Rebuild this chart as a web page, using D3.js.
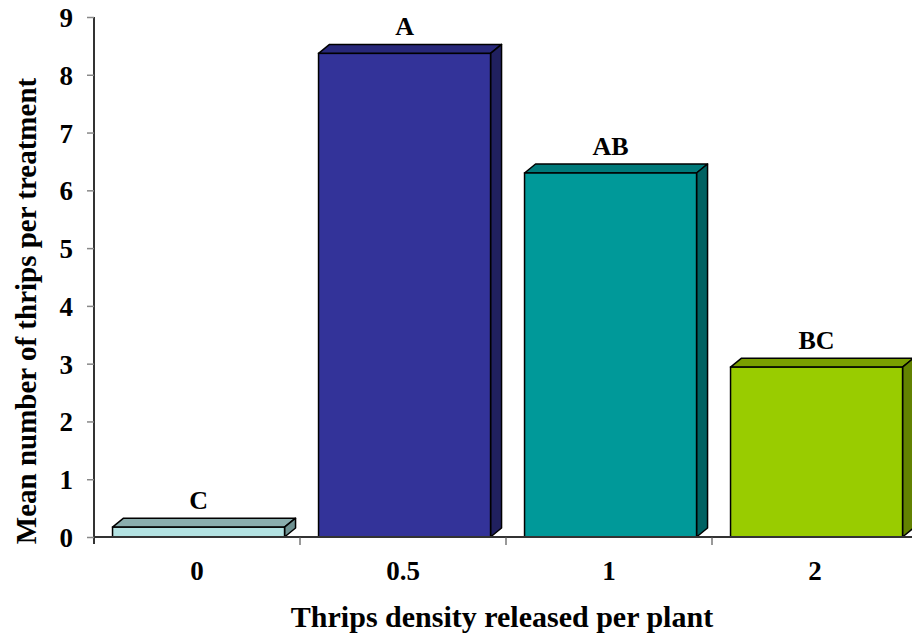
<!DOCTYPE html>
<html>
<head>
<meta charset="utf-8">
<script src="https://cdn.jsdelivr.net/npm/d3@7"></script>
<style>
  body { margin:0; background:#fff; }
  svg text { font-family: "Liberation Serif", "Times New Roman", serif; font-weight: bold; fill:#000; }
</style>
</head>
<body>
<div class="chart_bar"></div>
<script>
// values
var categories = ["0", "0.5", "1", "2"];
var means = [0.17, 8.37, 6.30, 2.94];
var letters = ["C", "A", "AB", "BC"];
var yTicks = [0,1,2,3,4,5,6,7,8,9];

var fronts = ["#b3e2e2", "#333399", "#009999", "#99cc00"];
var tops   = ["#8aadad", "#28287a", "#007a7a", "#7a9f00"];
var sides  = ["#6e9191", "#20205f", "#006262", "#628200"];

var width = 912, height = 634;
var x0 = 94, x1 = 918, yBase = 537, yTop = 17;
var dx = 11, dy = 9;

var svg = d3.select(".chart_bar").append("svg")
  .attr("width", width)
  .attr("height", height);

var xScale = d3.scaleBand()
  .domain(categories)
  .range([x0, x1])
  .paddingInner(0).paddingOuter(0);

var yScale = d3.scaleLinear()
  .domain([0, 9])
  .range([yBase, yTop]);

var bw = xScale.bandwidth();
var frontL = function(c){ return xScale(c) + bw*0.09; };
var frontW = bw*0.835;

// bars (3d look)
var bars = svg.selectAll(".bar")
  .data(means)
  .enter().append("g")
  .attr("class","bar");

bars.append("path") // top face
  .attr("d", function(d,i){
    var l = frontL(categories[i]), r = l + frontW, t = yScale(d);
    return "M"+l+","+t+"L"+(l+dx)+","+(t-dy)+"L"+(r+dx)+","+(t-dy)+"L"+r+","+t+"Z";
  })
  .attr("fill", function(d,i){ return tops[i]; })
  .attr("stroke","#000").attr("stroke-width",1.5).attr("stroke-linejoin","round");

bars.append("path") // side face
  .attr("d", function(d,i){
    var r = frontL(categories[i]) + frontW, t = yScale(d);
    return "M"+r+","+t+"L"+(r+dx)+","+(t-dy)+"L"+(r+dx)+","+(yBase-dy)+"L"+r+","+yBase+"Z";
  })
  .attr("fill", function(d,i){ return sides[i]; })
  .attr("stroke","#000").attr("stroke-width",1.5).attr("stroke-linejoin","round");

bars.append("rect") // front face
  .attr("x", function(d,i){ return frontL(categories[i]); })
  .attr("y", function(d){ return yScale(d); })
  .attr("width", frontW)
  .attr("height", function(d){ return yBase - yScale(d); })
  .attr("fill", function(d,i){ return fronts[i]; })
  .attr("stroke","#000").attr("stroke-width",1.5);

bars.append("text")
  .attr("x", function(d,i){ return frontL(categories[i]) + frontW/2; })
  .attr("y", function(d){ return yScale(d) - dy - 9; })
  .attr("text-anchor","middle")
  .style("font-size","26px")
  .text(function(d,i){ return letters[i]; });

// y axis
var yAxis = svg.append("g")
  .attr("class","y axis")
  .attr("transform","translate("+x0+",0)")
  .call(d3.axisLeft(yScale).tickValues(yTicks).tickSize(7).tickPadding(14).tickFormat(d3.format("d")));
yAxis.select(".domain").attr("stroke","#333").attr("stroke-width",2).attr("d","M0,"+yTop+"V"+(yBase+7));
yAxis.selectAll(".tick line").attr("stroke","#888").attr("stroke-width",1.5);
yAxis.selectAll(".tick text").style("font-size","27px").attr("dy","0.35em");

// x axis
var xAxis = svg.append("g")
  .attr("class","x axis")
  .attr("transform","translate(0,"+yBase+")")
  .call(d3.axisBottom(xScale).tickSize(0).tickPadding(24));
xAxis.select(".domain").attr("stroke","#333").attr("stroke-width",2).attr("d","M"+x0+",0H"+width);
xAxis.selectAll(".tick text").style("font-size","27px");

// tick marks between categories
xAxis.selectAll(".sep")
  .data(categories.slice(1))
  .enter().append("line")
  .attr("class","sep")
  .attr("x1", function(d){ return xScale(d); })
  .attr("x2", function(d){ return xScale(d); })
  .attr("y1", 0).attr("y2", 8)
  .attr("stroke","#555").attr("stroke-width",1.2);

// titles
svg.append("text")
  .attr("x", 502).attr("y", 627)
  .attr("text-anchor","middle")
  .style("font-size","30px")
  .text("Thrips density released per plant");

svg.append("text")
  .attr("transform","translate(36,311) rotate(-90)")
  .attr("text-anchor","middle")
  .style("font-size","29px")
  .text("Mean number of thrips per treatment");
</script>
</body>
</html>
